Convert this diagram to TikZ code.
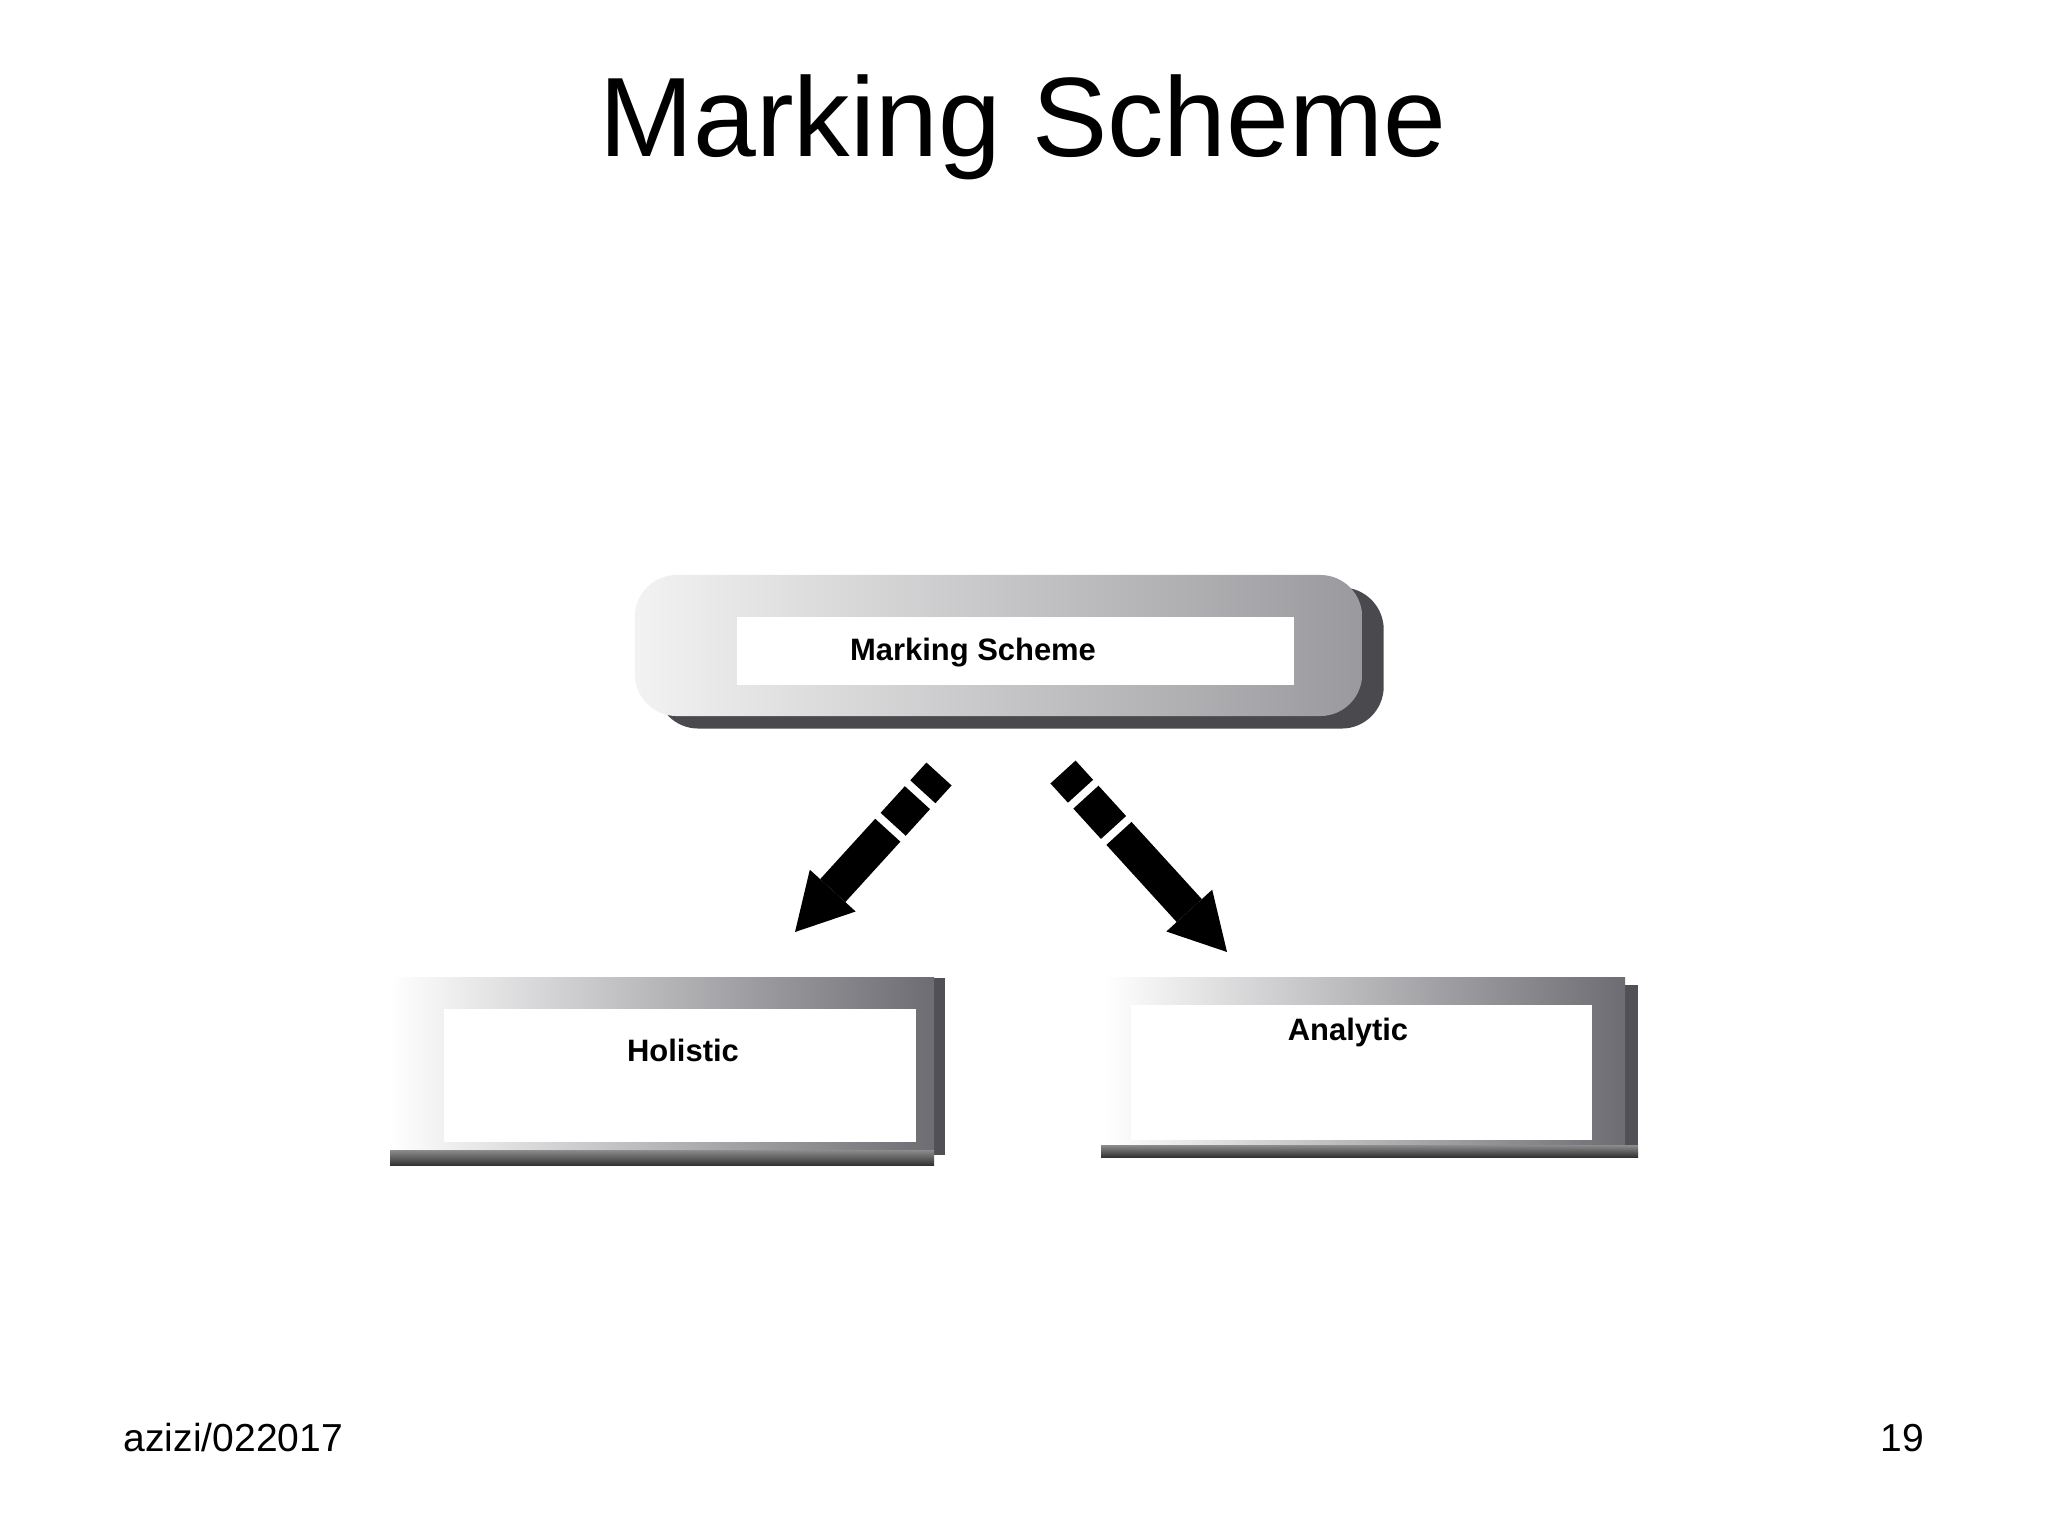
\documentclass[tikz,border=0pt]{standalone}
\usepackage{fontspec}
\setmainfont{Liberation Sans}
\usetikzlibrary{arrows.meta}
\definecolor{shadowgray}{HTML}{4A4A4E}
\definecolor{facedark}{HTML}{6C6C72}
\definecolor{topright}{HTML}{9A9A9E}
\definecolor{sidegray}{HTML}{505056}
\begin{document}
\begin{tikzpicture}[x=0.01cm,y=-0.01cm,
  titletext/.style={font=\fontsize{32.1}{38}\selectfont, inner sep=0pt, anchor=base},
  foot/.style={font=\fontsize{11.1}{13}\selectfont, inner sep=0pt, anchor=base west},
  lbl/.style={font=\bfseries\fontsize{8.8}{10}\selectfont, inner sep=0pt},
  plain/.style={inner sep=0pt, outer sep=0pt, draw=none},
  facebox/.style={plain, left color=white, right color=facedark},
  innerbox/.style={plain, fill=white},
  bigarrow/.style={line width=0.34cm, -{Triangle[length=0.56cm,width=0.62cm,line width=0pt]}}
]
\fill[white] (0,0) rectangle (2048,1536);
\useasboundingbox (0,0) rectangle (2048,1536);

% title
\node[titletext] (title) at (1023,156) {Marking Scheme};

% top rounded box
\node[plain, rounded corners=0.42cm, fill=shadowgray, minimum width=7.27cm, minimum height=1.41cm] (topsh) at (1020,658) {};
\node[plain, rounded corners=0.42cm, left color=white!95!black, right color=topright, minimum width=7.27cm, minimum height=1.41cm] (topface) at (998.5,645.5) {};
\node[innerbox, minimum width=5.57cm, minimum height=0.68cm] (topin) at (1015.5,651) {};
\node[lbl] (toplbl) at (973,653) {Marking Scheme};

% Holistic box
\fill[sidegray] (934,978) rectangle (945,1155);
\node[facebox, minimum width=5.44cm, minimum height=1.72cm] (hface) at (662,1064) {};
\shade[top color=black!45, bottom color=black!80] (390,1150) rectangle (934,1165);
\node[innerbox, minimum width=4.72cm, minimum height=1.33cm] (hin) at (680,1075.5) {};
\node[lbl] (hlbl) at (683,1050) {Holistic};

% Analytic box
\fill[sidegray] (1625,985) rectangle (1638,1157);
\node[facebox, minimum width=5.20cm, minimum height=1.67cm] (aface) at (1365,1061.5) {};
\shade[top color=black!45, bottom color=black!80] (1101,1145) rectangle (1638,1157);
\node[innerbox, minimum width=4.61cm, minimum height=1.35cm] (ain) at (1361.5,1072.5) {};
\node[lbl] (albl) at (1348,1032) {Analytic};

% arrows
\coordinate (ls) at (939,774);
\coordinate (le) at (795,932);
\coordinate (rs) at (1063,772);
\coordinate (re) at (1227,952);
\draw[bigarrow, dash pattern=on 0.24cm off 0.08cm on 0.36cm off 0.08cm on 4cm off 0cm] (ls) -- (le);
\draw[bigarrow, dash pattern=on 0.26cm off 0.08cm on 0.41cm off 0.08cm on 4cm off 0cm] (rs) -- (re);

% footer
\node[foot] (author) at (123,1451) {azizi/022017};
\node[foot, anchor=base east] (page) at (1925,1451) {19};
\end{tikzpicture}
\end{document}
